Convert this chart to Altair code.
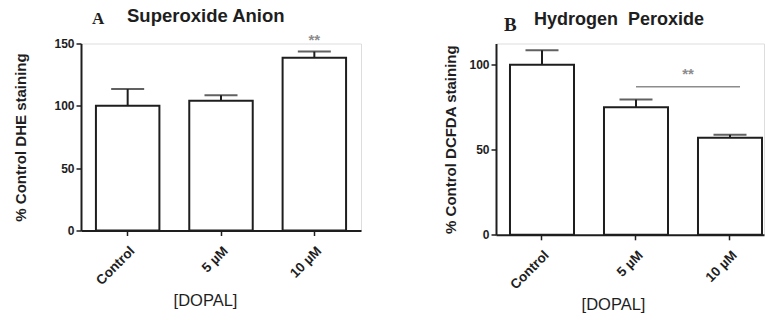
import altair as alt
import pandas as pd

# ---------------- data ----------------
categories = ["Control", "5 µM", "10 µM"]

a_mean = [100, 104, 138.5]
a_err = [13.5, 4.5, 5.0]
b_mean = [100, 75, 57]
b_err = [8.5, 4.5, 1.8]

a_y_ticks = [0, 50, 100, 150]
b_y_ticks = [0, 50, 100]
a_y_max = 150
b_y_max = 112.5

a_star_cat = ["10 µM"]
a_star_y = [155]
b_star_cat = ["10 µM"]
b_star_y = [96.5]
b_line_from = ["5 µM"]
b_line_to = ["10 µM"]
b_line_y = [87]

FONT = "Liberation Sans"
INK = "#1e1e1e"
GRAY = "#8c8c8c"


def panel(means, errs, ymax, yticks, ytitle, width, height, ytitle_pad,
          xtitle_x, letter, title, letter_pos, title_pos, title_size, letter_size,
          star_cat, star_y, star_dx, xs, line=None):
    df = pd.DataFrame({"cat": categories, "mean": means, "err": errs})
    df["upper"] = df["mean"] + df["err"]

    xaxis = alt.Axis(title="[DOPAL]", labelAngle=-45, labelFont=FONT, labelFontSize=13.5,
                     labelFontWeight="bold", labelColor=INK, labelPadding=8,
                     tickSize=5, tickColor=INK, tickWidth=1.5,
                     domainColor=INK, domainWidth=2, grid=False,
                     titleFont=FONT, titleFontSize=16.5, titleFontWeight="normal",
                     titleColor=INK, titleX=xtitle_x, titleY=70, titleBaseline="middle",
                     titleAlign="center")
    yaxis = alt.Axis(title=ytitle, values=yticks, labelFont=FONT, labelFontSize=12,
                     labelFontWeight="bold", labelColor=INK, labelPadding=2,
                     tickSize=5, tickColor=INK, tickWidth=1.5,
                     domainColor=INK, domainWidth=2, grid=False,
                     titleFont=FONT, titleFontSize=15, titleFontWeight="bold",
                     titleColor=INK, titlePadding=ytitle_pad)
    ys = alt.Scale(domain=[0, ymax], nice=False)

    def X(f):
        return alt.X(f, type="nominal", sort=categories, scale=xs, axis=xaxis)

    def Y(f):
        return alt.Y(f, type="quantitative", scale=ys, axis=yaxis)

    base = alt.Chart(df)
    bars = base.mark_bar(fill="white", stroke=INK, strokeWidth=2).encode(x=X("cat"), y=Y("mean"))
    rule = base.mark_rule(color=INK, strokeWidth=2).encode(x=X("cat"), y=Y("mean"), y2="upper:Q")
    cap = base.mark_tick(color=INK, thickness=2, size=33).encode(x=X("cat"), y=Y("upper"))

    sdf = pd.DataFrame({"cat": star_cat, "y": star_y, "t": ["**"] * len(star_cat)})
    star = alt.Chart(sdf).mark_text(color=GRAY, font=FONT, fontSize=15, fontWeight="bold",
                                    baseline="middle", dx=star_dx, dy=3).encode(
        x=X("cat"), y=Y("y"), text="t:N")

    tdf = pd.DataFrame({"t": [letter], "u": [title]})
    let = alt.Chart(tdf).mark_text(font="Liberation Serif", fontWeight="bold", fontSize=letter_size,
                                   align="left", baseline="alphabetic", color=INK).encode(
        x=alt.value(letter_pos[0]), y=alt.value(letter_pos[1]), text="t:N")
    tit = alt.Chart(tdf).mark_text(font=FONT, fontWeight="bold", fontSize=title_size,
                                   align="left", baseline="alphabetic", color=INK).encode(
        x=alt.value(title_pos[0]), y=alt.value(title_pos[1]), text="u:N")

    layers = [bars, rule, cap, star, let, tit]
    if line is not None:
        ldf = pd.DataFrame({"cat": line[0], "cat2": line[1], "y": line[2]})
        lr = alt.Chart(ldf).mark_rule(color=GRAY, strokeWidth=1.5, x2Offset=10).encode(
            x=X("cat"), x2="cat2:N", y=Y("y"))
        layers.append(lr)
    return alt.layer(*layers).properties(width=width, height=height)


xs_a = alt.Scale(paddingInner=0.32, paddingOuter=0.16)
xs_b = alt.Scale(paddingInner=0.319, paddingOuter=0.085, align=0.875)

pa = panel(a_mean, a_err, a_y_max, a_y_ticks, "% Control DHE staining", 280, 187, 25,
           124, "A", "Superoxide Anion", (11, -19.5), (46, -22), 18.5, 17,
           a_star_cat, a_star_y, 0, xs_a)
pb = panel(b_mean, b_err, b_y_max, b_y_ticks, "% Control DCFDA staining", 268, 191.3, 10,
           117, "B", "Hydrogen\u00a0 Peroxide", (8, -13), (38, -19), 18, 19,
           b_star_cat, b_star_y, -42, xs_b, line=(b_line_from, b_line_to, b_line_y))

chart = alt.hconcat(pa, pb, spacing=135, bounds="flush").properties(
    padding={"left": 13, "top": 5.5, "right": 0, "bottom": 0}
).configure_view(stroke=None).configure(background="white")

chart.save("out.html", embed_options={"renderer": "svg", "actions": False})
